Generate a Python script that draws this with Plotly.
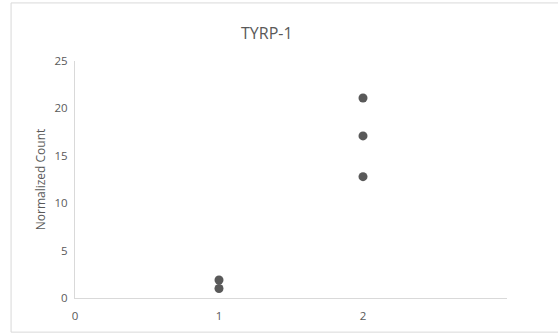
import plotly.graph_objects as go

title = "TYRP-1"
y_label = "Normalized Count"
group_x = [1, 1, 2, 2, 2]
counts = [1.9, 1.0, 21.1, 17.1, 12.8]
x_ticks = [0, 1, 2]
y_ticks = [0, 5, 10, 15, 20, 25]

fig = go.Figure()
fig.add_trace(go.Scatter(
    x=group_x, y=counts, mode="markers",
    marker=dict(size=9, color="#595959"),
    showlegend=False, hoverinfo="x+y",
))

font = "Open Sans, Liberation Sans, Arial, sans-serif"
grey = "#595959"
fig.update_layout(
    width=558, height=334,
    margin=dict(l=75, r=51, t=61, b=36),
    paper_bgcolor="white", plot_bgcolor="white",
    font=dict(family=font, color=grey, size=11),
    title=dict(text=title, x=0.444, xref="paper", xanchor="center",
               y=0.9, yref="container", yanchor="middle",
               font=dict(size=16, color=grey, family=font)),
    xaxis=dict(range=[0, 3], tickvals=x_ticks, showgrid=False, zeroline=False,
               showline=True, linecolor="#d9d9d9", linewidth=1, automargin=False,
               ticks="outside", ticklen=7, tickcolor="rgba(0,0,0,0)",
               tickfont=dict(size=11.5, color=grey, family=font)),
    yaxis=dict(range=[0, 25], tickvals=y_ticks, showgrid=False, zeroline=False,
               showline=True, linecolor="#d9d9d9", linewidth=1, automargin=False,
               ticks="outside", ticklen=4, tickcolor="rgba(0,0,0,0)",
               tickfont=dict(size=11.5, color=grey, family=font),
               title=dict(text=y_label, standoff=6, font=dict(size=12, color=grey, family=font))),
    shapes=[dict(type="rect", xref="paper", yref="paper",
                 x0=-0.148, x1=1.2, y0=-0.144, y1=1.245,
                 line=dict(color="#d9d9d9", width=1), fillcolor="rgba(0,0,0,0)", layer="below")],
)

fig.write_html("out.html", config={"displayModeBar": False},
               post_script="document.body.style.margin='0';")
